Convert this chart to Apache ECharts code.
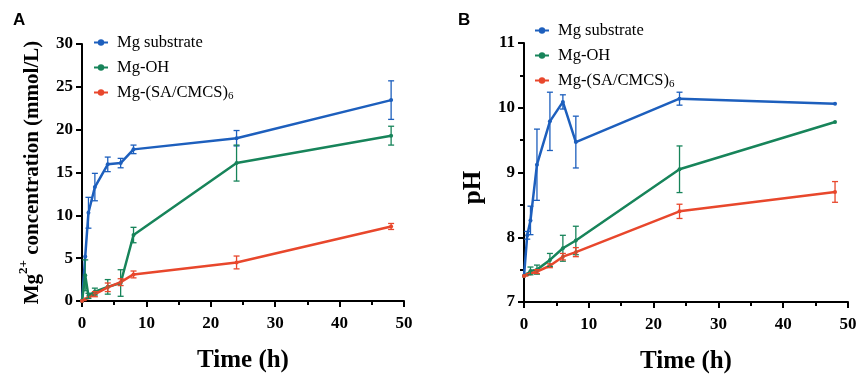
<!DOCTYPE html>
<html>
<head>
<meta charset="utf-8">
<script src="https://cdn.jsdelivr.net/npm/echarts@6/dist/echarts.min.js"></script>
<style>
  html, body { margin: 0; padding: 0; background: #fff; }
  #chart { width: 857px; height: 375px; }
</style>
</head>
<body>
<div id="chart"></div>
<script>
// sampling times (h)
const times = [0, 0.5, 1, 2, 4, 6, 8, 24, 48];
const seriesNames = ["Mg substrate", "Mg-OH", "Mg-(SA/CMCS)6"];
const colors = ["#1d5fbd", "#17845a", "#e8472c"];
const xTicks = [0, 10, 20, 30, 40, 50];

// panel A: Mg2+ concentration (mmol/L)
const mgSubConc = [0, 5.2, 10.3, 13.3, 15.95, 16.1, 17.7, 19.0, 23.45];
const mgSubConcErr = [0, 0, 1.8, 1.6, 0.85, 0.55, 0.5, 0.9, 2.25];
const mgOhConc = [0, 3.0, 0.6, 1.1, 1.65, 2.1, 7.7, 16.1, 19.3];
const mgOhConcErr = [0, 1.8, 0.3, 0.4, 0.85, 1.55, 0.9, 2.1, 1.1];
const mgLbLConc = [0, 0.2, 0.4, 0.8, 1.6, 2.2, 3.1, 4.5, 8.7];
const mgLbLConcErr = [0, 0, 0, 0.3, 0.5, 0.4, 0.4, 0.75, 0.35];

// panel B: pH
const mgSubPh = [7.4, 8.03, 8.26, 9.12, 9.79, 10.09, 9.47, 10.14, 10.06];
const mgSubPhErr = [0, 0.06, 0.22, 0.55, 0.45, 0.11, 0.4, 0.1, 0];
const mgOhPh = [7.4, 7.43, 7.48, 7.5, 7.65, 7.83, 7.95, 9.05, 9.78];
const mgOhPhErr = [0, 0, 0.06, 0.07, 0.1, 0.2, 0.22, 0.36, 0];
const mgLbLPh = [7.4, 7.42, 7.44, 7.47, 7.56, 7.7, 7.77, 8.4, 8.7];
const mgLbLPhErr = [0, 0, 0, 0.03, 0.03, 0.05, 0.07, 0.11, 0.16];

const SERIF = "Liberation Serif";
const chart = echarts.init(document.getElementById("chart"));

const pairs = (ys) => times.map((t, i) => [t, ys[i]]);
const errTriples = (ys, es) =>
    times.map((t, i) => [t, ys[i], es[i]]).filter((d) => d[2] > 0);

const renderErrorBar = (params, api) => {
    const x = api.value(0);
    const y = api.value(1);
    const e = api.value(2);
    const top = api.coord([x, y + e]);
    const bot = api.coord([x, y - e]);
    const cap = 3;
    const style = { stroke: api.visual("color"), lineWidth: 1.3 };
    return {
        type: "group",
        children: [
            { type: "line", shape: { x1: top[0], y1: top[1], x2: bot[0], y2: bot[1] }, style },
            { type: "line", shape: { x1: top[0] - cap, y1: top[1], x2: top[0] + cap, y2: top[1] }, style },
            { type: "line", shape: { x1: bot[0] - cap, y1: bot[1], x2: bot[0] + cap, y2: bot[1] }, style },
        ],
    };
};

const lineSeries = (name, color, ys, axis) => ({
    name,
    type: "line",
    xAxisIndex: axis,
    yAxisIndex: axis,
    data: pairs(ys),
    color,
    symbol: "circle",
    symbolSize: 4,
    lineStyle: { width: 2.5, color },
    itemStyle: { color },
    emphasis: { disabled: true },
    z: 3,
});

const errSeries = (name, color, ys, es, axis) => ({
    name,
    type: "custom",
    xAxisIndex: axis,
    yAxisIndex: axis,
    data: errTriples(ys, es),
    itemStyle: { color },
    encode: { x: 0, y: 1 },
    renderItem: renderErrorBar,
    silent: true,
    z: 4,
});

const axisLine = { lineStyle: { color: "#000", width: 2 } };
const tickStyle = { show: true, length: 6, lineStyle: { color: "#000", width: 2 } };
const labelStyle = { color: "#000", fontFamily: SERIF, fontWeight: "bold", fontSize: 17 };

const xAxisFor = (grid) => ({
    type: "value",
    gridIndex: grid,
    min: 0,
    max: 50,
    interval: 10,
    axisLine: { onZero: false, ...axisLine },
    axisTick: tickStyle,
    minorTick: { show: true, splitNumber: 2, length: 4, lineStyle: { color: "#000", width: 2 } },
    splitLine: { show: false },
    axisLabel: { ...labelStyle, margin: 14, formatter: (v) => (xTicks.includes(v) ? String(v) : "") },
    name: "Time (h)",
    nameLocation: "middle",
    nameGap: 47,
    nameTextStyle: { color: "#000", fontFamily: SERIF, fontWeight: "bold", fontSize: 25 },
});

const legendFor = (left, top) => ({
    orient: "vertical",
    left,
    top,
    itemWidth: 14,
    itemHeight: 8,
    itemGap: 8,
    data: seriesNames,
    selectedMode: false,
    formatter: (n) => (n === "Mg-(SA/CMCS)6" ? "{t|Mg-(SA/CMCS)}{s|6}" : "{t|" + n + "}"),
    textStyle: {
        color: "#000",
        padding: [0, 0, 0, 4],
        rich: {
            t: { fontFamily: SERIF, fontSize: 16.5, color: "#000", lineHeight: 18 },
            s: { fontFamily: SERIF, fontSize: 11, color: "#000", verticalAlign: "bottom", padding: [8, 0, 0, 0] },
        },
    },
});

const option = {
    animation: false,
    backgroundColor: "#fff",
    grid: [
        { left: 82, top: 44, width: 322, height: 257, outerBoundsMode: "none" },
        { left: 524, top: 43, width: 324, height: 259, outerBoundsMode: "none" },
    ],
    legend: [legendFor(88, 29), legendFor(529, 17)],
    graphic: [
        { type: "text", left: 13, top: 12, style: { text: "A", font: "bold 17px Liberation Sans", fill: "#000" } },
        { type: "text", left: 458, top: 12, style: { text: "B", font: "bold 17px Liberation Sans", fill: "#000" } },
    ],
    xAxis: [xAxisFor(0), xAxisFor(1)],
    yAxis: [
        {
            type: "value",
            gridIndex: 0,
            min: 0,
            max: 30,
            interval: 5,
            axisLine: { show: true, ...axisLine },
            axisTick: tickStyle,
            splitLine: { show: false },
            axisLabel: { ...labelStyle, margin: 9 },
            name: "{m|Mg}{p|2+}{m| concentration (mmol/L)}",
            nameLocation: "middle",
            nameGap: 39,
            nameTextStyle: {
                rich: {
                    m: { fontFamily: SERIF, fontWeight: "bold", fontSize: 21, color: "#000", lineHeight: 26, verticalAlign: "bottom" },
                    p: { fontFamily: SERIF, fontWeight: "bold", fontSize: 13, color: "#000", lineHeight: 14, verticalAlign: "top" },
                },
            },
        },
        {
            type: "value",
            gridIndex: 1,
            min: 7,
            max: 11,
            interval: 1,
            axisLine: { show: true, ...axisLine },
            axisTick: tickStyle,
            minorTick: { show: true, splitNumber: 2, length: 4, lineStyle: { color: "#000", width: 2 } },
            splitLine: { show: false },
            axisLabel: { ...labelStyle, margin: 9 },
            name: "pH",
            nameLocation: "middle",
            nameGap: 38,
            nameTextStyle: { color: "#000", fontFamily: SERIF, fontWeight: "bold", fontSize: 25, padding: [0, 30, 0, 0] },
        },
    ],
    series: [
        lineSeries(seriesNames[0], colors[0], mgSubConc, 0),
        lineSeries(seriesNames[1], colors[1], mgOhConc, 0),
        lineSeries(seriesNames[2], colors[2], mgLbLConc, 0),
        errSeries(seriesNames[0], colors[0], mgSubConc, mgSubConcErr, 0),
        errSeries(seriesNames[1], colors[1], mgOhConc, mgOhConcErr, 0),
        errSeries(seriesNames[2], colors[2], mgLbLConc, mgLbLConcErr, 0),
        lineSeries(seriesNames[0], colors[0], mgSubPh, 1),
        lineSeries(seriesNames[1], colors[1], mgOhPh, 1),
        lineSeries(seriesNames[2], colors[2], mgLbLPh, 1),
        errSeries(seriesNames[0], colors[0], mgSubPh, mgSubPhErr, 1),
        errSeries(seriesNames[1], colors[1], mgOhPh, mgOhPhErr, 1),
        errSeries(seriesNames[2], colors[2], mgLbLPh, mgLbLPhErr, 1),
    ],
};

chart.setOption(option);
</script>
</body>
</html>
